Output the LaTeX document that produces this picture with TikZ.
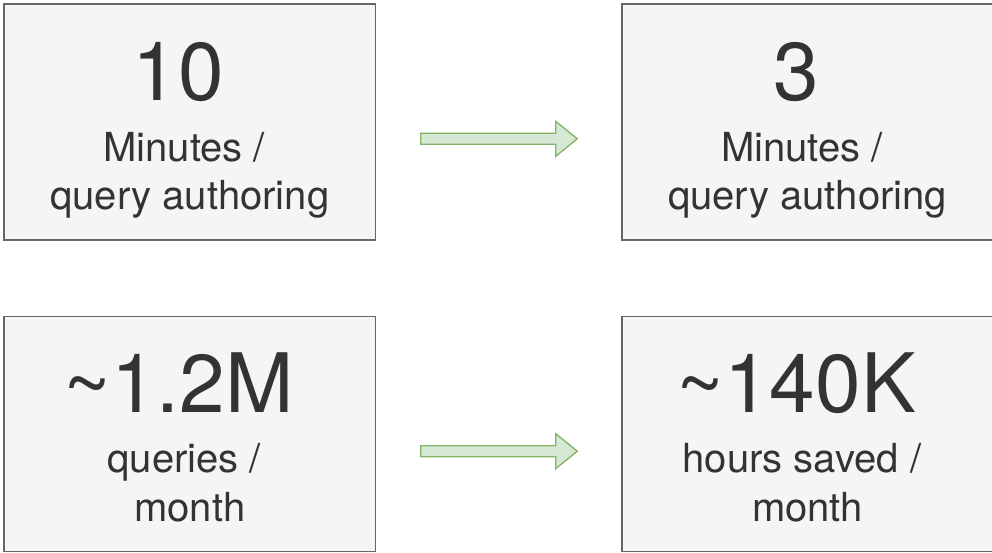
\documentclass[tikz,border=0pt]{standalone}
\usepackage{fontspec}
\setmainfont{TeX Gyre Heros}
\usetikzlibrary{calc}
\definecolor{boxfill}{HTML}{F5F5F5}
\definecolor{boxline}{HTML}{666666}
\definecolor{txt}{HTML}{333333}
\definecolor{arrfill}{HTML}{D5E8D4}
\definecolor{arrline}{HTML}{82B366}
\tikzset{
  card/.style={draw=boxline, fill=boxfill, line width=1.5pt, minimum width=371.5pt, minimum height=236pt, inner sep=0pt, outer sep=0pt},
  bignum/.style={anchor=base, text=txt, font=\fontsize{82}{90}\selectfont, inner sep=0pt},
  smalltxt/.style={anchor=base, text=txt, font=\fontsize{40}{48}\selectfont, inner sep=0pt},
  flow/.style={draw=arrline, fill=arrfill, line width=1.3pt, line join=miter},
}
\newcommand{\tsp}{\kern0.278em}
\begin{document}
\begin{tikzpicture}[x=1pt,y=-1pt]
\useasboundingbox (0,0) rectangle (992,552);
% boxes
\node[card] (tl) at (189.75,122) {};
\node[card, minimum width=371pt] (tr) at (807.5,122) {};
\node[card, minimum height=235pt] (bl) at (189.75,434) {};
\node[card, minimum width=371pt, minimum height=235pt] (br) at (807.5,434) {};
% texts top-left
\node[bignum] (tlnum) at ($(tl.north)+(0,96.8)$) {10\tsp};
\node[smalltxt] (tla) at ($(tl.north)+(0,157.3)$) {Minutes /\tsp};
\node[smalltxt] (tlb) at ($(tl.north)+(0,205.8)$) {query authoring};
% texts top-right
\node[bignum] (trnum) at ($(tr.north)+(0,96.8)$) {3\tsp};
\node[smalltxt] (tra) at ($(tr.north)+(0,157.3)$) {Minutes /\tsp};
\node[smalltxt] (trb) at ($(tr.north)+(0,205.8)$) {query authoring};
% texts bottom-left
\node[bignum] (blnum) at ($(bl.north)+(0,96.4)$) {\textasciitilde 1.2M\tsp};
\node[smalltxt] (bla) at ($(bl.north)+(0,155.6)$) {queries /\tsp};
\node[smalltxt] (blb) at ($(bl.north)+(0,204.8)$) {month};
% texts bottom-right
\node[bignum] (brnum) at ($(br.north)+(0,96.4)$) {\textasciitilde 140K\tsp};
\node[smalltxt] (bra) at ($(br.north)+(0,155.6)$) {hours saved /\tsp};
\node[smalltxt] (brb) at ($(br.north)+(0,204.8)$) {month};
% arrows
\coordinate (a1s) at (420.7,138.8);
\coordinate (a1e) at (577.3,138.8);
\coordinate (a2s) at (420.7,451.2);
\coordinate (a2e) at (577.3,451.2);
\foreach \s/\e in {a1s/a1e, a2s/a2e}{
  \draw[flow] ($(\s)+(0,-5.5)$) -- ($(\e)+(-21.6,-5.5)$) -- ($(\e)+(-21.6,-17.5)$) -- (\e)
    -- ($(\e)+(-21.6,17.5)$) -- ($(\e)+(-21.6,5.5)$) -- ($(\s)+(0,5.5)$) -- cycle;
}
\end{tikzpicture}
\end{document}
